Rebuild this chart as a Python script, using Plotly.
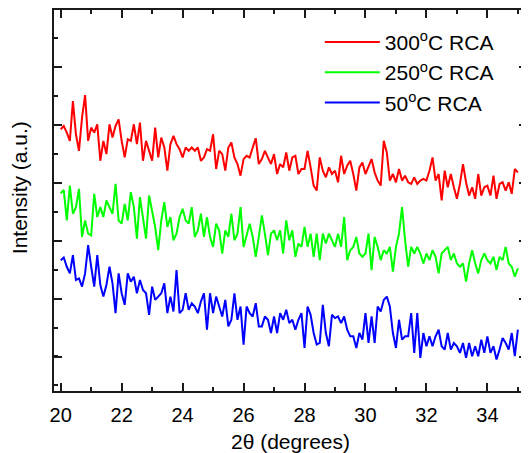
import numpy as np
import plotly.graph_objects as go

# 2-theta scan grid (degrees), 0.1 degree step
two_theta = np.round(np.linspace(20.0, 35.0, 151), 2)

# Intensities (arbitrary units)
i_300 = [860, 870, 850, 825, 945, 845, 795, 895, 963, 825, 865, 850, 875, 765, 825, 785, 875, 835, 870, 890,
         825, 775, 830, 825, 875, 815, 880, 765, 825, 795, 765, 865, 775, 835, 805, 735, 815, 840, 815, 800,
         775, 805, 795, 805, 795, 805, 765, 775, 800, 795, 845, 740, 795, 785, 735, 805, 820, 775, 755, 720,
         770, 780, 775, 805, 833, 755, 770, 795, 775, 755, 785, 725, 755, 745, 790, 735, 775, 780, 725, 740,
         740, 795, 745, 690, 675, 775, 735, 715, 745, 725, 735, 700, 780, 725, 750, 765, 725, 675, 745, 760,
         725, 745, 770, 730, 705, 690, 825, 790, 705, 725, 700, 740, 705, 720, 700, 695, 715, 695, 705, 710,
         705, 735, 775, 705, 725, 645, 735, 685, 725, 685, 650, 695, 755, 700, 660, 685, 650, 725, 660, 685,
         690, 660, 720, 650, 695, 700, 675, 700, 665, 740, 730]

i_250 = [667, 677, 585, 690, 605, 625, 680, 535, 585, 545, 540, 665, 595, 625, 595, 645, 625, 605, 695, 585,
         575, 635, 585, 670, 625, 530, 655, 595, 530, 660, 615, 565, 495, 585, 640, 565, 595, 525, 545, 595,
         620, 585, 575, 625, 535, 555, 605, 535, 595, 535, 505, 575, 555, 485, 555, 535, 605, 525, 545, 625,
         505, 545, 575, 535, 475, 535, 600, 545, 480, 545, 555, 525, 555, 485, 585, 525, 555, 475, 515, 505,
         565, 505, 545, 475, 545, 465, 545, 515, 545, 525, 505, 545, 505, 595, 465, 495, 505, 535, 485, 475,
         485, 545, 435, 535, 505, 465, 495, 485, 505, 430, 505, 545, 625, 525, 445, 505, 485, 505, 485, 455,
         485, 465, 495, 475, 425, 485, 495, 505, 465, 485, 455, 445, 455, 400, 455, 495, 455, 425, 465, 485,
         465, 455, 475, 435, 475, 465, 505, 455, 445, 415, 440]

i_50 = [465, 473, 445, 425, 480, 405, 410, 385, 425, 510, 445, 385, 480, 390, 355, 390, 445, 395, 305, 425,
        365, 330, 425, 400, 415, 365, 405, 375, 365, 300, 385, 345, 355, 365, 395, 305, 355, 310, 435, 305,
        315, 365, 315, 335, 325, 305, 340, 365, 255, 365, 305, 355, 325, 295, 345, 265, 285, 365, 285, 325,
        210, 325, 305, 295, 335, 265, 265, 295, 285, 245, 295, 245, 305, 285, 315, 275, 285, 255, 285, 305,
        200, 325, 300, 245, 210, 215, 330, 245, 205, 300, 290, 295, 275, 295, 255, 235, 235, 200, 245, 225,
        305, 215, 295, 215, 325, 310, 345, 355, 325, 245, 200, 285, 225, 235, 235, 305, 185, 305, 170, 245,
        205, 235, 205, 235, 255, 205, 195, 245, 195, 215, 205, 185, 215, 170, 215, 175, 205, 175, 225, 185,
        235, 185, 205, 165, 195, 230, 215, 195, 245, 175, 255]

series_names = ["300<sup>o</sup>C RCA", "250<sup>o</sup>C RCA", "50<sup>o</sup>C RCA"]
series_values = [i_300, i_250, i_50]
series_colors = ["#FF0000", "#00FF00", "#0000FF"]

x_ticks = [20, 22, 24, 26, 28, 30, 32, 34]

FONT = "Arial, Liberation Sans, sans-serif"
AXIS_COLOR = "#1a1a1a"

fig = go.Figure()
for name, vals, col in zip(series_names, series_values, series_colors):
    fig.add_trace(go.Scatter(x=two_theta, y=vals, mode="lines", name=name,
                             line=dict(color=col, width=2)))

# the page body has an 8px default margin, so the figure is 8px smaller each way
fig.update_layout(
    width=521, height=445,
    margin=dict(l=46, r=0, t=1, b=62),
    paper_bgcolor="white", plot_bgcolor="white",
    font=dict(family=FONT, color="black", size=20),
    showlegend=True,
    legend=dict(x=0.562, y=0.969, xanchor="left", yanchor="top",
                bgcolor="rgba(0,0,0,0)", borderwidth=0,
                font=dict(family=FONT, size=21, color="black"),
                itemwidth=55, tracegroupgap=0),
    xaxis=dict(range=[19.78, 35.3], showgrid=False, zeroline=False,
               showline=True, linewidth=2, linecolor=AXIS_COLOR, mirror="ticks",
               ticks="inside", ticklen=8, tickwidth=1.5, tickcolor=AXIS_COLOR,
               tickmode="array", tickvals=x_ticks, ticklabelstandoff=5,
               minor=dict(dtick=1, tick0=21, ticks="inside", ticklen=4, tickwidth=1.5, tickcolor=AXIS_COLOR),
               tickfont=dict(size=20, family=FONT, color="black"),
               title=dict(text="2θ (degrees)", font=dict(size=21, family=FONT, color="black"), standoff=9)),
    yaxis=dict(range=[70, 1220], showgrid=False, zeroline=False,
               showline=True, linewidth=2, linecolor=AXIS_COLOR, mirror="ticks",
               ticks="inside", ticklen=8, tickwidth=1.5, tickcolor=AXIS_COLOR,
               tick0=174, dtick=174.6, showticklabels=False,
               minor=dict(dtick=87.3, tick0=87, ticks="inside", ticklen=4, tickwidth=1.5, tickcolor=AXIS_COLOR)),
    annotations=[dict(text="Intensity (a.u.)", xref="paper", yref="paper",
                      x=-0.0726, y=0.534, xanchor="center", yanchor="middle",
                      textangle=-90, showarrow=False,
                      font=dict(size=21, family=FONT, color="black"))],
)

fig.write_html("out.html")
